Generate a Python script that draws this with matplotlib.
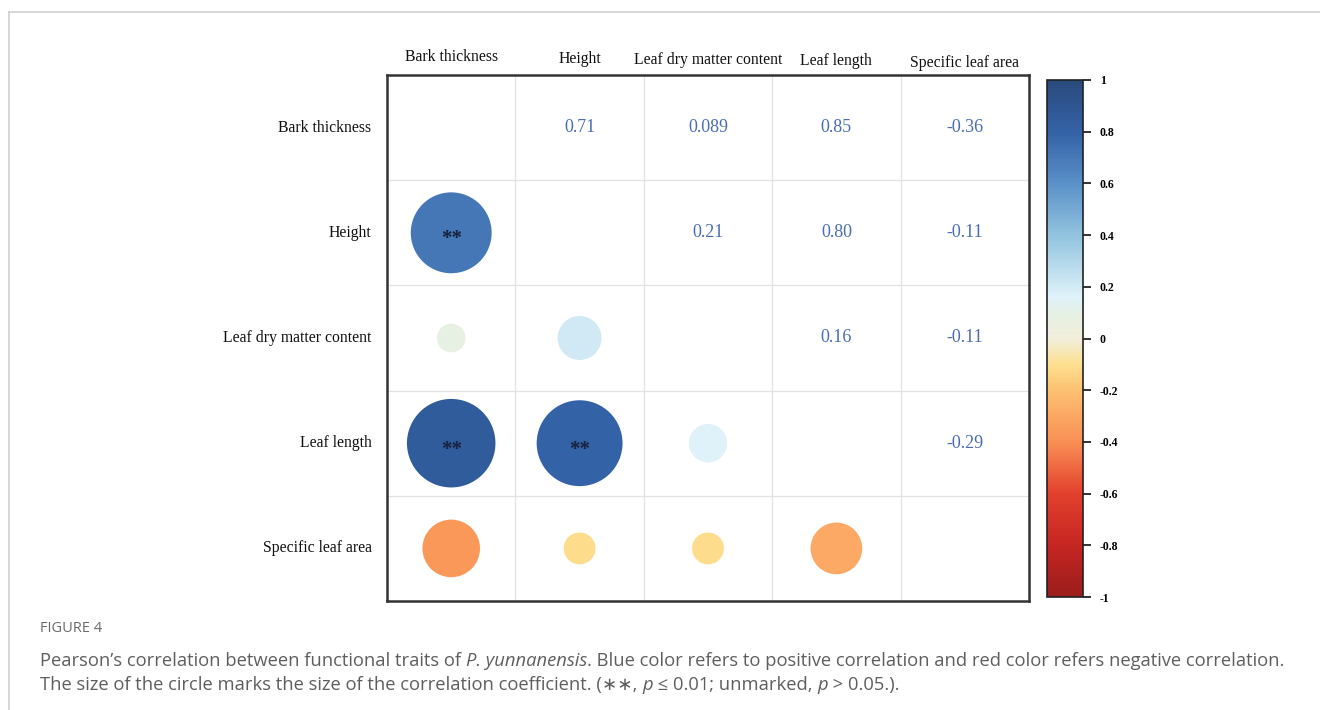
import numpy as np
import matplotlib
matplotlib.use("Agg")
import matplotlib.pyplot as plt
from matplotlib.colors import LinearSegmentedColormap, Normalize
from matplotlib.cm import ScalarMappable
from matplotlib.lines import Line2D

traits = ["Bark thickness", "Height", "Leaf dry matter content", "Leaf length", "Specific leaf area"]

# pairwise Pearson r (upper triangle, row i < col j)
r_bark = [0.71, 0.089, 0.85, -0.36]
r_height = [0.21, 0.80, -0.11]
r_ldmc = [0.16, -0.11]
r_leaflen = [-0.29]
# pairs with p <= 0.01
sig_pairs = [(0, 1), (0, 3), (1, 3)]

cbar_ticks = [1, 0.8, 0.6, 0.4, 0.2, 0, -0.2, -0.4, -0.6, -0.8, -1]

n = len(traits)
corr = np.eye(n)
for i, row in enumerate([r_bark, r_height, r_ldmc, r_leaflen]):
    for k, v in enumerate(row):
        j = i + 1 + k
        corr[i, j] = v
        corr[j, i] = v

cmap = LinearSegmentedColormap.from_list("corr", [
    (0.00, "#9b1d1b"), (0.10, "#c62622"), (0.20, "#e2412d"), (0.30, "#f98f55"),
    (0.40, "#fdc173"), (0.45, "#fde08f"), (0.50, "#f1eedb"), (0.545, "#e6f0e3"),
    (0.58, "#dff1f9"), (0.60, "#d3ebf5"), (0.70, "#92c3df"), (0.80, "#5a91c8"),
    (0.90, "#3462a7"), (1.00, "#2a4a7c")])
norm = Normalize(-1, 1)

W, H = 1320, 710
fig = plt.figure(figsize=(W / 100, H / 100), dpi=100)
ax = fig.add_axes([387 / W, 1 - 601 / H, (1029 - 387) / W, (601 - 75) / H])
ax.set_xlim(0, n)
ax.set_ylim(n, 0)
ax.set_xticks([])
ax.set_yticks([])
for s in ax.spines.values():
    s.set_linewidth(1.8)
    s.set_color("#333333")
for k in range(1, n):
    ax.axvline(k, color="#e2e2e2", lw=0.9, zorder=0)
    ax.axhline(k, color="#e2e2e2", lw=0.9, zorder=0)

serif = "Liberation Serif"
for i in range(n):
    for j in range(n):
        r = corr[i, j]
        if i > j:
            # marker area proportional to |r|
            ax.scatter(j + 0.5, i + 0.5, s=4778 * abs(r),
                       color=cmap(norm(r)), edgecolors="none", zorder=2)
            if (j, i) in sig_pairs:
                ax.text(j + 0.5, i + 0.56, "**", ha="center", va="center", fontsize=15,
                        fontweight="bold", color="#16223d", family=serif, zorder=3)
        elif i < j:
            label = f"{r:.3f}" if abs(r) < 0.1 else f"{r:.2f}"
            ax.text(j + 0.5, i + 0.5, label, ha="center", va="center", fontsize=13,
                    color="#4a6cb3", family=serif)

# trait names on top and left
top_y = [-0.171, -0.152, -0.143, -0.133, -0.114]
for j, name in enumerate(traits):
    ax.text(j + 0.5, top_y[j], name, ha="center", va="center", fontsize=11.3,
            family=serif, color="#111111", clip_on=False)
for i, name in enumerate(traits):
    ax.text(-0.12, i + 0.5, name, ha="right", va="center", fontsize=11.3,
            family=serif, color="#111111", clip_on=False)

cax = fig.add_axes([1047 / W, 1 - 597 / H, 36 / W, (597 - 80) / H])
sm = ScalarMappable(norm=norm, cmap=cmap)
cb = fig.colorbar(sm, cax=cax, ticks=cbar_ticks)
cb.ax.set_yticklabels([f"{t:g}" for t in cbar_ticks], fontsize=8.5, fontweight="bold",
                      family=serif)
cb.ax.tick_params(length=6, width=1.2, color="#111111", pad=6)
cb.outline.set_linewidth(1.2)
cb.outline.set_edgecolor("#222222")

# page border
fig.add_artist(Line2D([9 / W, 9 / W], [0, 1 - 12 / H], color="#cfcfcf", lw=1.2))
fig.add_artist(Line2D([9 / W, 1], [1 - 12 / H, 1 - 12 / H], color="#cfcfcf", lw=1.2))

sans = ["Open Sans", "DejaVu Sans"]
fig.text(40 / W, 1 - 629 / H, "FIGURE 4", fontsize=10.5, color="#6b6b6b", family=sans,
         va="center")

fig.canvas.draw()
renderer = fig.canvas.get_renderer()


def runs(x0, y, parts, size=13.2, color="#5e5e5e"):
    x = x0
    for txt, style in parts:
        t = fig.text(x / W, 1 - y / H, txt, fontsize=size, color=color, family=sans,
                     style=style, va="center")
        x = t.get_window_extent(renderer).x1


runs(40, 661, [("Pearson\u2019s correlation between functional traits of ", "normal"),
               ("P. yunnanensis", "italic"),
               (". Blue color refers to positive correlation and red color refers negative correlation.", "normal")])
runs(40, 685, [("The size of the circle marks the size of the correlation coefficient. (\u2217\u2217, ", "normal"),
               ("p", "italic"), (" \u2264 0.01; unmarked, ", "normal"),
               ("p", "italic"), (" > 0.05.).", "normal")])

fig.savefig("out.png", dpi=100)
